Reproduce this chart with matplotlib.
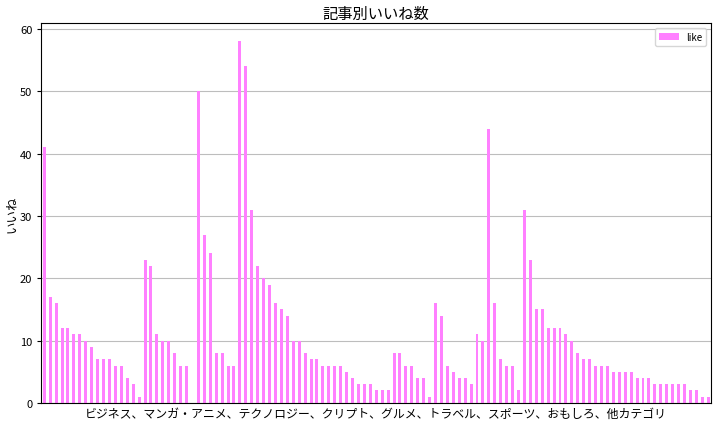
import numpy as np
import pandas as pd
import matplotlib
matplotlib.use("Agg")
import matplotlib.pyplot as plt

plt.rcParams['font.family'] = ['Noto Sans CJK JP', 'DejaVu Sans']

# いいね数（記事ごと、カテゴリ順）
likes = [41, 17, 16, 12, 12, 11, 11, 10, 9, 7, 7, 7, 6, 6, 4, 3, 1,
         23, 22, 11, 10, 10, 8, 6, 6, 0,
         50, 27, 24, 8, 8, 6, 6,
         58, 54, 31, 22, 20, 19, 16, 15, 14, 10, 10, 8, 7, 7, 6, 6, 6, 6, 5, 4, 3,
         3, 3, 2, 2, 2, 8, 8, 6, 6, 4, 4, 1,
         16, 14, 6, 5, 4, 4, 3, 11, 10, 44, 16, 7, 6, 6, 2,
         31, 23, 15, 15, 12, 12, 12, 11, 10, 8, 7, 7, 6, 6, 6, 5, 5, 5, 5,
         4, 4, 4, 3, 3, 3, 3, 3, 3, 2, 2, 1, 1]

categories = "ビジネス、マンガ・アニメ、テクノロジー、クリプト、グルメ、トラベル、スポーツ、おもしろ、他カテゴリ"

df = pd.DataFrame({'like': likes})

fig, ax = plt.subplots(figsize=(7.22, 4.27), dpi=100)
fig.subplots_adjust(left=0.0572, right=0.985, bottom=0.054, top=0.943)

df.plot.bar(ax=ax, color='#ff80ff', width=0.5)
ax.set_xlim(-0.5, len(likes) - 0.5)
ax.set_ylim(0, max(likes) * 1.05)
ax.set_xticks([])
ax.set_yticks(np.arange(0, 61, 10))
ax.tick_params(axis='y', labelsize=8, length=3)
ax.grid(axis='y', color='#bdbdbd', linewidth=0.8)
ax.set_axisbelow(True)

ax.set_title("記事別いいね数", fontsize=11, pad=4)
ax.set_ylabel("いいね", fontsize=9, labelpad=1)
ax.set_xlabel(categories, fontsize=8.6, labelpad=3)
ax.legend(loc='upper right', fontsize=7)

plt.savefig("out.png", dpi=100)
